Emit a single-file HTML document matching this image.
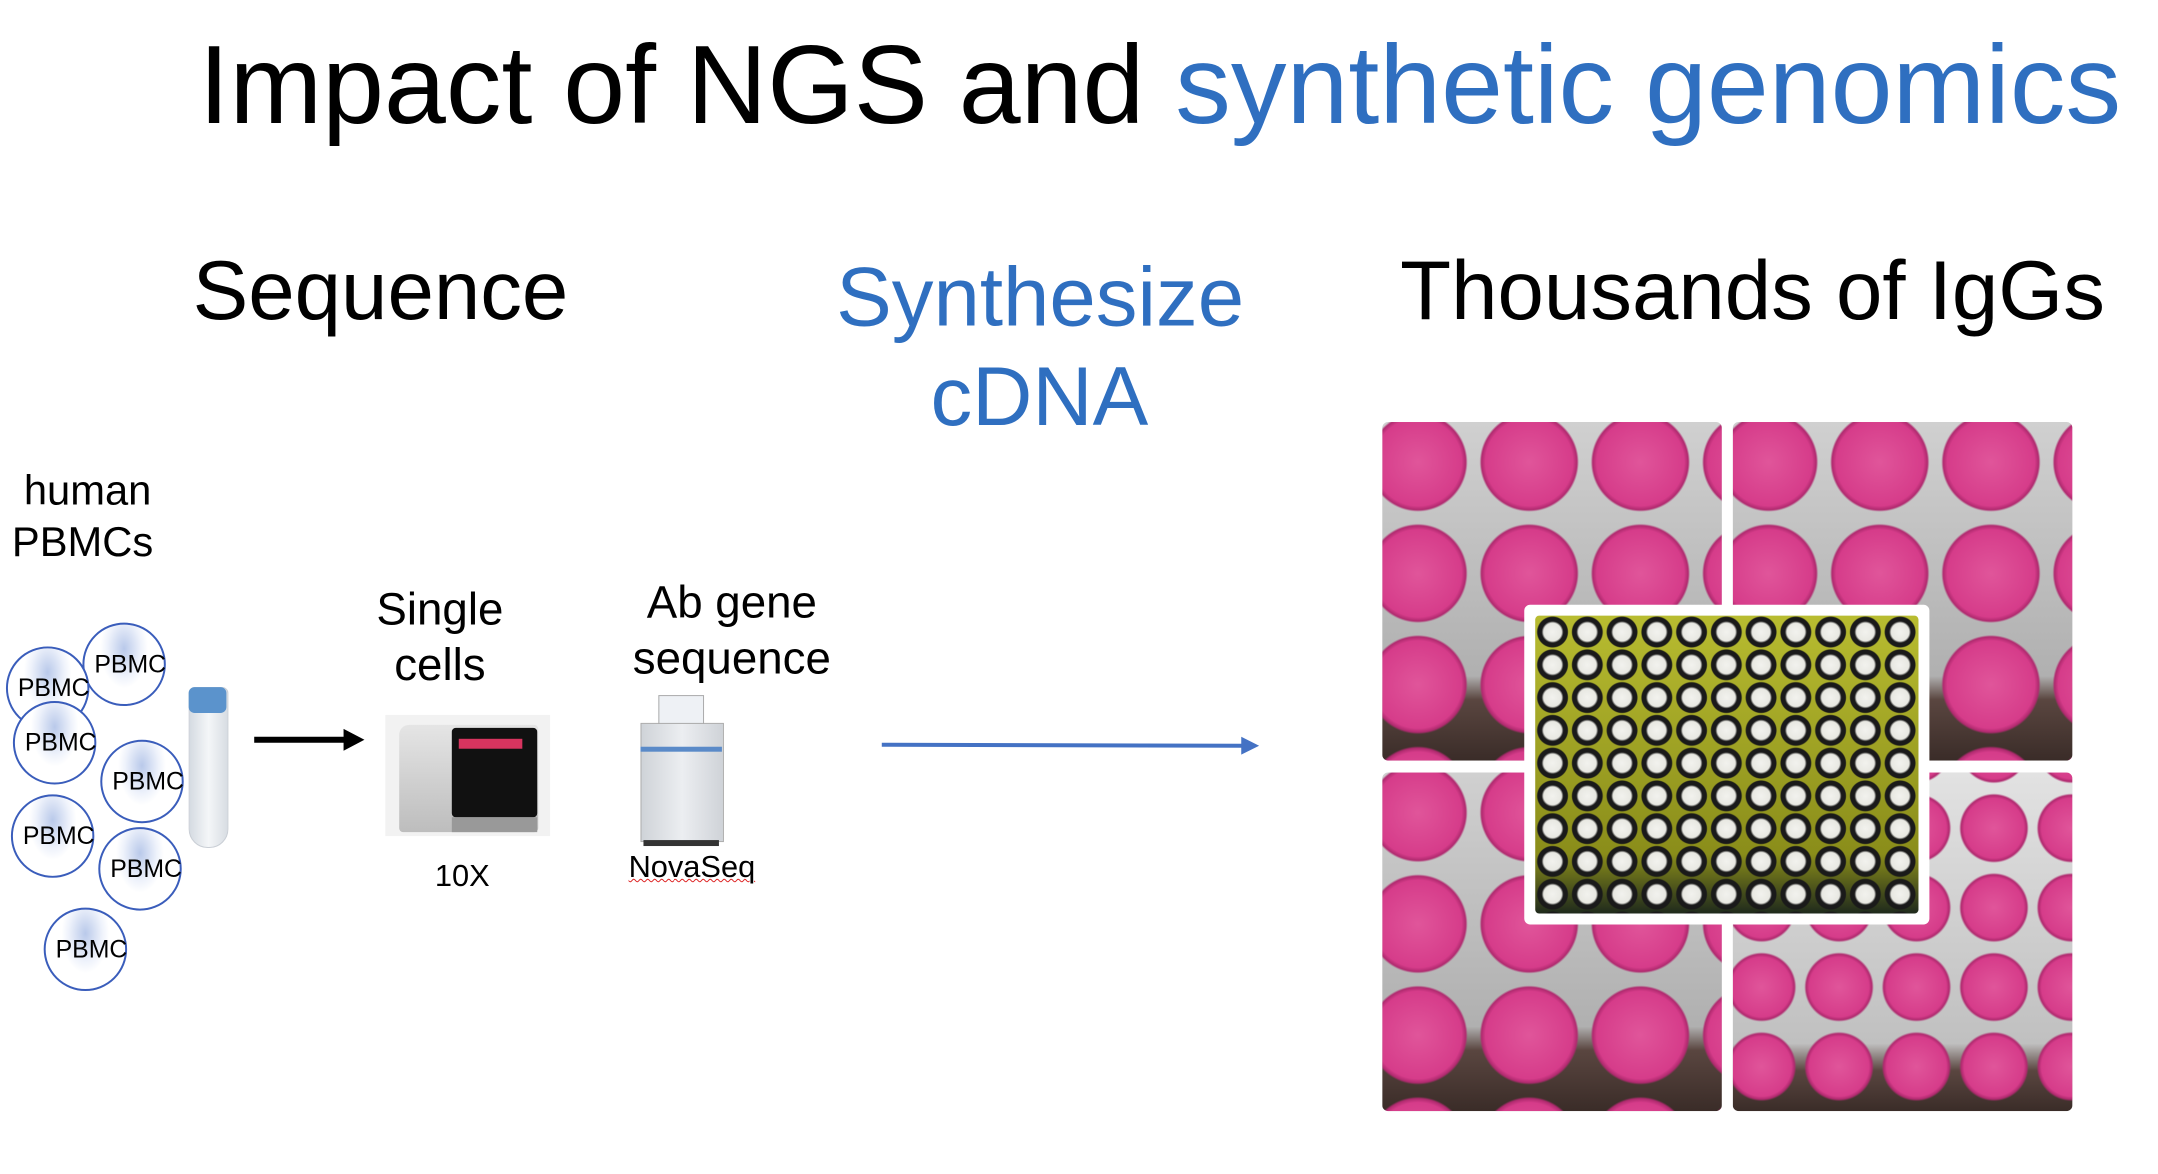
<!DOCTYPE html>
<html><head><meta charset="utf-8"><style>
body{margin:0;width:2158px;height:1174px;background:#fff;position:relative;overflow:hidden;font-family:"Liberation Sans",sans-serif}
#w{position:absolute;left:0;top:0;width:2158px;height:1174px;transform:scale(0.993);transform-origin:0 0}
.t{position:absolute;white-space:nowrap;line-height:1}
.c{position:absolute;width:84px;height:84px;border:2px solid #3a5dbb;border-radius:50%;box-sizing:border-box;background:radial-gradient(ellipse 30% 50% at 50% 30%,#b9c9ea,#eef2fb 70%,#fff);font-size:25px;display:flex;align-items:center;justify-content:flex-start;padding-left:10px}
.q{position:absolute;border-radius:6px;overflow:hidden;background-color:#b8b8b8}
.pk{background-image:radial-gradient(circle at 50% 45%,#e0559a 0,#d63c8a 44px,#b02a6f 48px,transparent 50px),linear-gradient(#d0d0d0,#b0b0b0 75%,#5a4640 82%,#3a2c28);background-size:112px 112px,100% 100%;background-position:-20px -10px,0 0}
</style></head><body><div id="w">
<div class="t" style="left:200px;top:30px;font-size:112px">Impact of NGS and <span style="color:#2f6fc0">synthetic genomics</span></div>
<div class="t" style="left:194px;top:250px;font-size:84px">Sequence</div>
<div class="t" style="left:842px;top:257px;font-size:84px;color:#2f6fc0">Synthesize</div>
<div class="t" style="left:937px;top:357px;font-size:84px;color:#2f6fc0">cDNA</div>
<div class="t" style="left:1410px;top:250px;font-size:84px">Thousands of IgGs</div>
<div class="t" style="left:24px;top:473px;font-size:42px">human</div>
<div class="t" style="left:12px;top:525px;font-size:42px">PBMCs</div>
<div class="c" style="left:83px;top:627px">PBMC</div>
<div class="c" style="left:6px;top:651px">PBMC</div>
<div class="c" style="left:13px;top:706px">PBMC</div>
<div class="c" style="left:101px;top:745px">PBMC</div>
<div class="c" style="left:11px;top:800px">PBMC</div>
<div class="c" style="left:99px;top:833px">PBMC</div>
<div class="c" style="left:44px;top:914px">PBMC</div>
<div style="position:absolute;left:190px;top:692px;width:38px;height:160px;border-radius:6px 6px 19px 19px;background:linear-gradient(90deg,#d5dbe2,#f4f6f8,#d8dde3);border:1px solid #c9ced5"></div>
<div style="position:absolute;left:190px;top:692px;width:38px;height:26px;border-radius:6px;background:#5b93cc"></div>
<svg style="position:absolute;left:0;top:0" width="2158" height="1174">
<line x1="256" y1="745" x2="350" y2="745" stroke="#000" stroke-width="6"/>
<polygon points="346,734 367,745 346,756" fill="#000"/>
<line x1="888" y1="750" x2="1252" y2="751" stroke="#4472c4" stroke-width="4"/>
<polygon points="1250,742 1268,751 1250,760" fill="#4472c4"/>
</svg>
<div style="position:absolute;left:388px;top:720px;width:166px;height:122px;background:#f2f2f2"></div>
<div style="position:absolute;left:402px;top:730px;width:140px;height:108px;background:linear-gradient(#e5e5e5,#bdbdbd);border-radius:10px 4px 4px 4px"></div>
<div style="position:absolute;left:455px;top:733px;width:86px;height:90px;background:#111;border-radius:4px"></div>
<div style="position:absolute;left:462px;top:744px;width:64px;height:10px;background:#d8345f"></div>
<div style="position:absolute;left:455px;top:823px;width:86px;height:15px;background:#999"></div>
<div style="position:absolute;left:663px;top:700px;width:44px;height:28px;background:#eef1f5;border:1px solid #aaa"></div>
<div style="position:absolute;left:645px;top:728px;width:82px;height:118px;background:linear-gradient(90deg,#cfd3d8,#eceef1,#cfd3d8);border:1px solid #aaa"></div>
<div style="position:absolute;left:645px;top:752px;width:82px;height:5px;background:#5a8ac8"></div>
<div style="position:absolute;left:648px;top:846px;width:76px;height:6px;background:#333"></div>
<div class="t" style="left:438px;top:866px;font-size:31px">10X</div>
<div class="t" style="left:443px;top:590px;font-size:46px;transform:translateX(-50%)">Single</div>
<div class="t" style="left:443px;top:646px;font-size:46px;transform:translateX(-50%)">cells</div>
<div class="t" style="left:737px;top:583px;font-size:46px;transform:translateX(-50%)">Ab gene</div>
<div class="t" style="left:737px;top:639px;font-size:46px;transform:translateX(-50%)">sequence</div>
<div class="t" style="left:633px;top:857px;font-size:31px;text-decoration:underline wavy #d22;text-decoration-thickness:1px">NovaSeq</div>
<div class="q pk" style="left:1392px;top:425px;width:342px;height:341px"></div>
<div class="q pk" style="left:1745px;top:425px;width:342px;height:341px"></div>
<div class="q pk" style="left:1392px;top:778px;width:342px;height:341px"></div>
<div class="q" style="left:1745px;top:778px;width:342px;height:341px;background-image:radial-gradient(circle at 50% 45%,#e0559a 0,#d63c8a 30px,#b02a6f 33px,transparent 35px),linear-gradient(#e2e2e2,#c0c0c0 80%,#5a4640 88%,#3a2c28);background-size:78px 80px,100% 100%;background-position:-10px 20px,0 0"></div>
<div style="position:absolute;left:1535px;top:609px;width:408px;height:322px;background:#fff;border-radius:6px"></div>
<div style="position:absolute;left:1546px;top:620px;width:386px;height:300px;background-color:#9a9a20;background-image:radial-gradient(circle,#f2f2ee 0,#e8e8e2 9px,#1a1a1a 11px,#1a1a1a 15px,transparent 16px),linear-gradient(#b8bc30,#8a8d1a 80%,#1f2a1c);background-size:35px 33px,100% 100%;border-radius:4px"></div>
</div></body></html>
